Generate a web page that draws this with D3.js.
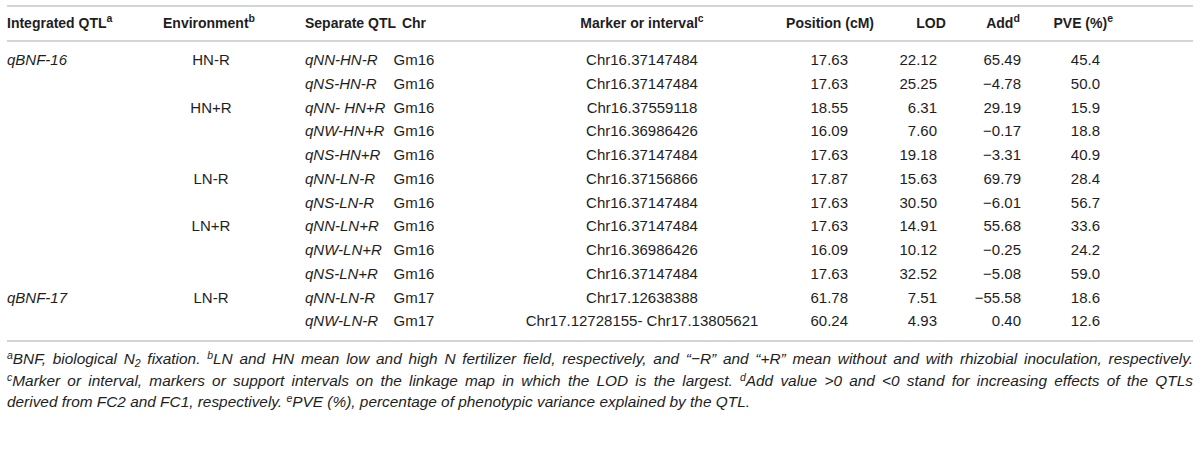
<!DOCTYPE HTML>
<html>
  <head>
    <title>QTL table</title>
    <style>
      html, body { margin: 0; padding: 0; background: #fff; }
      svg { display: block; }
      text { font-family: "Liberation Sans", Arial, sans-serif; fill: #1e1e1e; }
    </style>
  </head>
  <body>
    <svg width="1200" height="456"></svg>
    <script src="https://d3js.org/d3.v7.min.js"></script>
    <script>
      // table content
      var headers = [ 'Integrated QTL', 'Environment', 'Separate QTL', 'Chr', 'Marker or interval', 'Position (cM)', 'LOD', 'Add', 'PVE (%)' ];
      var headerNotes = [ 'a', 'b', '', '', 'c', '', '', 'd', 'e' ];
      var integrated = [ 'qBNF-16', '', '', '', '', '', '', '', '', '', 'qBNF-17', '' ];
      var environment = [ 'HN-R', '', 'HN+R', '', '', 'LN-R', '', 'LN+R', '', '', 'LN-R', '' ];
      var separate = [ 'qNN-HN-R', 'qNS-HN-R', 'qNN- HN+R', 'qNW-HN+R', 'qNS-HN+R', 'qNN-LN-R', 'qNS-LN-R', 'qNN-LN+R', 'qNW-LN+R', 'qNS-LN+R', 'qNN-LN-R', 'qNW-LN-R' ];
      var chr = [ 'Gm16', 'Gm16', 'Gm16', 'Gm16', 'Gm16', 'Gm16', 'Gm16', 'Gm16', 'Gm16', 'Gm16', 'Gm17', 'Gm17' ];
      var marker = [ 'Chr16.37147484', 'Chr16.37147484', 'Chr16.37559118', 'Chr16.36986426', 'Chr16.37147484',
                     'Chr16.37156866', 'Chr16.37147484', 'Chr16.37147484', 'Chr16.36986426', 'Chr16.37147484',
                     'Chr17.12638388', 'Chr17.12728155- Chr17.13805621' ];
      var position = [ 17.63, 17.63, 18.55, 16.09, 17.63, 17.87, 17.63, 17.63, 16.09, 17.63, 61.78, 60.24 ];
      var lod = [ 22.12, 25.25, 6.31, 7.60, 19.18, 15.63, 30.50, 14.91, 10.12, 32.52, 7.51, 4.93 ];
      var add = [ 65.49, -4.78, 29.19, -0.17, -3.31, 69.79, -6.01, 55.68, -0.25, -5.08, -55.58, 0.40 ];
      var pve = [ 45.4, 50.0, 15.9, 18.8, 40.9, 28.4, 56.7, 33.6, 24.2, 59.0, 18.6, 12.6 ];

      // footnotes: arrays of [text, style] pieces
      var footnotes = [
        [ [ 'a', 'sup' ], [ 'BNF, biological N', '' ], [ '2', 'sub' ], [ ' fixation. ', '' ], [ 'b', 'sup' ],
          [ 'LN and HN mean low and high N fertilizer field, respectively, and \u201c\u2212R\u201d and \u201c+R\u201d mean without and with rhizobial inoculation, respectively.', '' ] ],
        [ [ 'c', 'sup' ], [ 'Marker or interval, markers or support intervals on the linkage map in which the LOD is the largest. ', '' ],
          [ 'd', 'sup' ], [ 'Add value >0 and <0 stand for increasing effects of the QTLs', '' ] ],
        [ [ 'derived from FC2 and FC1, respectively. ', '' ], [ 'e', 'sup' ], [ 'PVE (%), percentage of phenotypic variance explained by the QTL.', '' ] ]
      ];

      var svg = d3.select( 'svg' );
      var left = 7, right = 1193;
      var fontSize = 15;

      var fmt2 = d3.format( '.2f' ), fmt1 = d3.format( '.1f' );
      function signed( f ) { return function( v ) { return v < 0 ? '\u2212' + f( -v ) : f( v ); }; }

      // column layout: x anchor, text-anchor, italic, formatter
      var columns = [
        { values: integrated, x: 7, anchor: 'start', italic: true, hx: 7, hanchor: 'start' },
        { values: environment, x: 211, anchor: 'middle', hx: 163, hanchor: 'start' },
        { values: separate, x: 305, anchor: 'start', italic: true, hx: 305, hanchor: 'start' },
        { values: chr, x: 414, anchor: 'middle', hx: 414, hanchor: 'middle' },
        { values: marker, x: 642, anchor: 'middle', hx: 642, hanchor: 'middle' },
        { values: position, x: 848, anchor: 'end', fmt: signed( fmt2 ), hx: 874, hanchor: 'end' },
        { values: lod, x: 937, anchor: 'end', fmt: signed( fmt2 ), hx: 931, hanchor: 'middle' },
        { values: add, x: 1021, anchor: 'end', fmt: signed( fmt2 ), hx: 1003, hanchor: 'middle' },
        { values: pve, x: 1100, anchor: 'end', fmt: signed( fmt1 ), hx: 1113, hanchor: 'end' }
      ];

      var rowScale = d3.scaleBand().domain( d3.range( separate.length ) ).range( [ 48, 333 ] );

      function hline( y ) {
        svg.append( 'line' )
          .attr( 'x1', left ).attr( 'x2', right )
          .attr( 'y1', y ).attr( 'y2', y )
          .attr( 'stroke', '#d4d4d4' )
          .attr( 'stroke-width', 2 );
      }
      hline( 6 );
      hline( 41 );
      hline( 341 );

      // header
      headers.forEach( function( h, i ) {
        var c = columns[ i ];
        var t = svg.append( 'text' )
          .attr( 'x', c.hx ).attr( 'y', 28 )
          .attr( 'text-anchor', c.hanchor )
          .attr( 'font-size', 14 )
          .attr( 'font-weight', 'bold' );
        t.append( 'tspan' ).text( h );
        if( headerNotes[ i ] ) {
          t.append( 'tspan' )
            .attr( 'font-size', 10.5 )
            .attr( 'dy', -6 )
            .text( headerNotes[ i ] );
        }
      } );

      // body cells
      columns.forEach( function( c ) {
        svg.append( 'g' )
          .selectAll( 'text' )
          .data( c.values )
          .enter()
          .append( 'text' )
            .attr( 'x', c.x )
            .attr( 'y', function( d, i ) { return rowScale( i ) + rowScale.bandwidth() / 2; } )
            .attr( 'dy', '0.35em' )
            .attr( 'text-anchor', c.anchor )
            .attr( 'font-size', fontSize )
            .attr( 'font-style', c.italic ? 'italic' : 'normal' )
            .text( function( d ) { return c.fmt ? c.fmt( d ) : d; } );
      } );

      // footnotes
      var footY = d3.scaleLinear().domain( [ 0, 2 ] ).range( [ 364, 407 ] );
      footnotes.forEach( function( parts, li ) {
        var t = svg.append( 'text' )
          .attr( 'x', left ).attr( 'y', footY( li ) )
          .attr( 'font-size', 15.4 )
          .attr( 'font-style', 'italic' );
        var shift = 0;
        parts.forEach( function( p ) {
          var s = t.append( 'tspan' ).text( p[ 0 ] );
          var target = p[ 1 ] === 'sup' ? -5 : p[ 1 ] === 'sub' ? 3 : 0;
          if( target !== shift ) s.attr( 'dy', target - shift );
          shift = target;
          if( p[ 1 ] ) s.attr( 'font-size', 10.5 );
        } );
        // justify the first two lines across the table width
        if( li < 2 ) {
          var len = t.node().getComputedTextLength();
          var spaces = parts.map( function( p ) { return p[ 0 ]; } ).join( '' ).split( ' ' ).length - 1;
          t.attr( 'word-spacing', ( right - left - len ) / spaces );
        }
      } );
    </script>
  </body>
</html>
